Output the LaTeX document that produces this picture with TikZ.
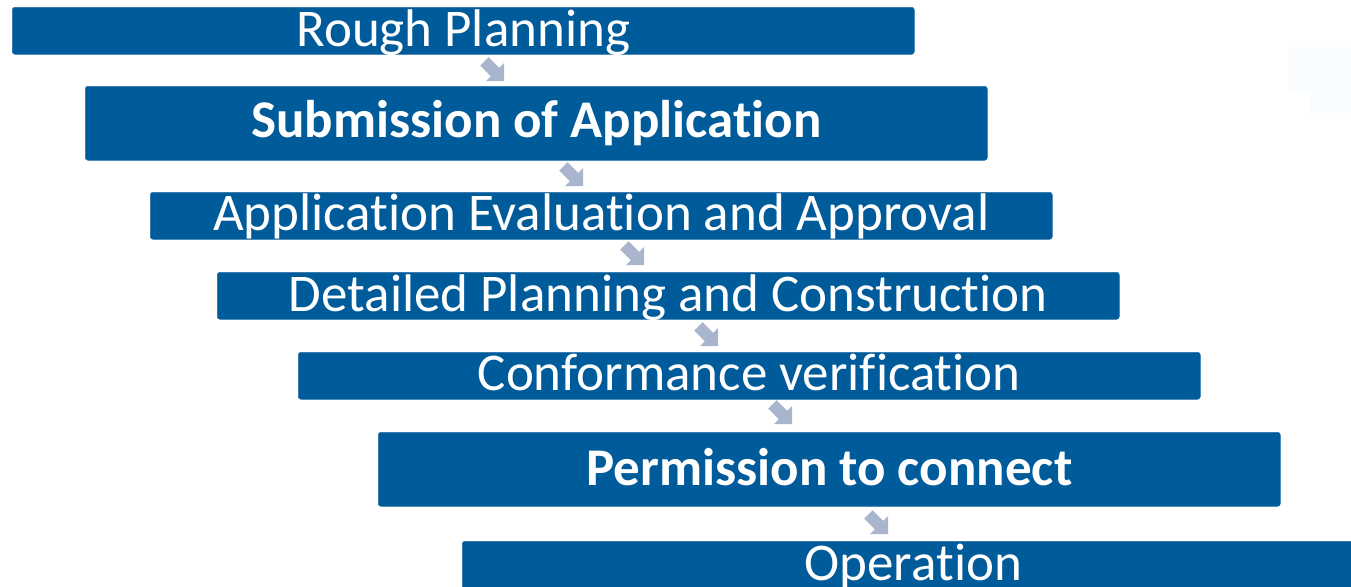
\documentclass[tikz,border=0pt]{standalone}
\usepackage{fontspec}
\setmainfont[RawFeature={-liga;-clig;-dlig;-calt}]{Carlito}
\usetikzlibrary{calc}

\definecolor{stepblue}{RGB}{0,91,155}
\definecolor{stepedge}{RGB}{40,112,170}
\definecolor{arrowgray}{RGB}{168,181,204}
\definecolor{ghost}{RGB}{250,253,255}

\tikzset{
  stepbox/.style={fill=stepblue, draw=stepedge, line width=0.4pt,
    rounded corners=2pt, inner sep=0pt, anchor=north west,
    minimum width=676.5pt},
  thinbox/.style={stepbox, minimum height=35.25pt},
  tallbox/.style={stepbox, minimum height=55.5pt},
  steplabel/.style={text=white, inner sep=0pt, anchor=base,
    font=\fontsize{39.75}{40}\selectfont},
  boldlabel/.style={steplabel, font=\fontsize{39.75}{40}\selectfont\bfseries},
  stepflow/.pic={
    \fill[arrowgray] (-15,-6) -- (0,-6) -- (0,-13) -- (13,0)
      -- (0,13) -- (0,6) -- (-15,6) -- cycle;
  }
}

\begin{document}
\begin{tikzpicture}[x=0.75pt, y=-0.75pt]
  \useasboundingbox (0,0) rectangle (1351,586);
  \clip (0,0) rectangle (1351,586);

  % faint background panels at the upper right
  \fill[ghost] (1288,47) rectangle (1351,92);
  \fill[ghost] (1310,92) rectangle (1351,113);

  % process steps
  \node[thinbox] (b1) at (12,7)    {};
  \node[tallbox] (b2) at (85,86)   {};
  \node[thinbox] (b3) at (150,192) {};
  \node[thinbox] (b4) at (217,272) {};
  \node[thinbox] (b5) at (298,352) {};
  \node[tallbox] (b6) at (378,432) {};
  \node[thinbox] (b7) at (462,541) {};

  \node[steplabel] (t1) at ($(b1.north)+(0,39)$) {Rough Planning};
  \node[boldlabel] (t2) at ($(b2.north)+(0,51)$) {Submission of Application};
  \node[steplabel] (t3) at ($(b3.north)+(0,38)$) {Application Evaluation and Approval};
  \node[steplabel] (t4) at ($(b4.north)+(0,39)$) {Detailed Planning and Construction};
  \node[steplabel] (t5) at ($(b5.north)+(0,38)$) {Conformance verification};
  \node[boldlabel] (t6) at ($(b6.north)+(0,53)$) {Permission to connect};
  \node[steplabel] (t7) at ($(b7.north)+(0,39)$) {Operation};

  % step-to-step arrows
  \pic[rotate=-45] at (495,72)  {stepflow};
  \pic[rotate=-45] at (574,177) {stepflow};
  \pic[rotate=-45] at (635,256) {stepflow};
  \pic[rotate=-45] at (709,337) {stepflow};
  \pic[rotate=-45] at (783,415) {stepflow};
  \pic[rotate=-45] at (879,525) {stepflow};
\end{tikzpicture}
\end{document}
